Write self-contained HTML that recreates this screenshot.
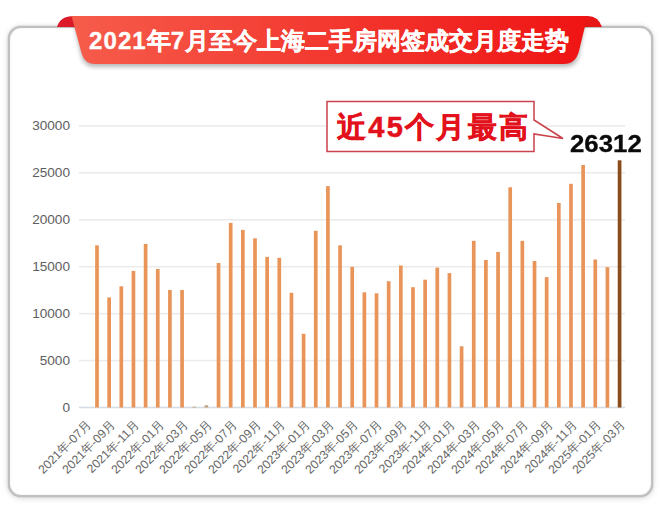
<!DOCTYPE html>
<html><head><meta charset="utf-8">
<style>
html,body{margin:0;padding:0;}
body{width:660px;height:515px;position:relative;overflow:hidden;background:#fff;font-family:"Liberation Sans",sans-serif;}
.card{position:absolute;left:7.5px;top:26.2px;width:641.4px;height:466.6px;border:2px solid #c0c0c0;border-radius:13px;box-shadow:0 0 1.5px rgba(0,0,0,0.3), 0 1px 6px rgba(0,0,0,0.16), inset 0 0 2px rgba(0,0,0,0.1);background:#fff;}
svg{position:absolute;left:0;top:0;}
.yl{position:absolute;left:0;width:70px;text-align:right;font-size:13.6px;line-height:16px;color:#5e5e5e;}
.xl{position:absolute;top:414.6px;width:200px;text-align:right;font-size:12.2px;line-height:16px;color:#666;transform-origin:100% 50%;transform:rotate(-45deg);white-space:nowrap;}
.title{position:absolute;left:89px;top:25px;font-size:24px;line-height:32px;font-weight:bold;color:#fff;white-space:nowrap;-webkit-text-stroke:0.35px #fff;}
.dg{letter-spacing:1.1px;}
.call{position:absolute;left:337px;top:106.5px;letter-spacing:2.25px;font-size:29px;line-height:40px;font-weight:bold;color:#e3111b;white-space:nowrap;-webkit-text-stroke:0.55px #e3111b;}
.big{position:absolute;left:570px;top:130px;transform-origin:0 0;transform:scaleX(1.075);font-size:24px;line-height:28px;font-weight:bold;color:#0b0b0b;white-space:nowrap;-webkit-text-stroke:0.3px #0b0b0b;}
</style></head><body>
<div class="card"></div>
<svg width="660" height="515" viewBox="0 0 660 515">
<defs>
<linearGradient id="rg" x1="0" x2="1" y1="0" y2="0">
<stop offset="0" stop-color="#f65c4b"/><stop offset="1" stop-color="#ef1414"/>
</linearGradient>
<linearGradient id="rb" x1="0" x2="1" y1="0" y2="0">
<stop offset="0" stop-color="#dc1a2a"/><stop offset="1" stop-color="#e81616"/>
</linearGradient>
<filter id="sh" x="-10%" y="-50%" width="120%" height="200%"><feGaussianBlur stdDeviation="2"/></filter>
</defs>
<path d="M57 27 Q60 16 74 16 L588 16 Q598 16 602 27 Z" fill="url(#rb)"/>
<path d="M74 24 L585 24 L579 56 Q576 67 565 67 L94 67 Q84 67 81 56 Z" fill="rgba(0,0,0,0.28)" filter="url(#sh)"/>
<path d="M71.5 16 L587.5 16 L579 51 Q575.5 64 564 64 L95 64 Q84 64 81 51 Z" fill="url(#rg)"/>
<rect x="79" y="406.70" width="546" height="1.6" fill="#d6dce4"/><rect x="79" y="359.77" width="546" height="1.6" fill="#ebebeb"/><rect x="79" y="312.84" width="546" height="1.6" fill="#ebebeb"/><rect x="79" y="265.91" width="546" height="1.6" fill="#ebebeb"/><rect x="79" y="218.98" width="546" height="1.6" fill="#ebebeb"/><rect x="79" y="172.05" width="546" height="1.6" fill="#ebebeb"/><rect x="79" y="125.12" width="546" height="1.6" fill="#ebebeb"/>
<rect x="95.15" y="245.30" width="3.7" height="162.20" fill="#e9955a"/><rect x="107.30" y="297.40" width="3.7" height="110.10" fill="#e9955a"/><rect x="119.46" y="286.30" width="3.7" height="121.20" fill="#e9955a"/><rect x="131.61" y="270.90" width="3.7" height="136.60" fill="#e9955a"/><rect x="143.76" y="243.90" width="3.7" height="163.60" fill="#e9955a"/><rect x="155.91" y="269.00" width="3.7" height="138.50" fill="#e9955a"/><rect x="168.07" y="290.00" width="3.7" height="117.50" fill="#e9955a"/><rect x="180.22" y="290.00" width="3.7" height="117.50" fill="#e9955a"/><rect x="192.37" y="406.70" width="3.7" height="0.80" fill="#c0a07a"/><rect x="204.53" y="405.30" width="3.7" height="2.20" fill="#c0a07a"/><rect x="216.68" y="263.00" width="3.7" height="144.50" fill="#e9955a"/><rect x="228.83" y="222.90" width="3.7" height="184.60" fill="#e9955a"/><rect x="240.99" y="229.90" width="3.7" height="177.60" fill="#e9955a"/><rect x="253.14" y="238.30" width="3.7" height="169.20" fill="#e9955a"/><rect x="265.29" y="256.90" width="3.7" height="150.60" fill="#e9955a"/><rect x="277.44" y="257.80" width="3.7" height="149.70" fill="#e9955a"/><rect x="289.60" y="292.80" width="3.7" height="114.70" fill="#e9955a"/><rect x="301.75" y="333.80" width="3.7" height="73.70" fill="#e9955a"/><rect x="313.90" y="230.80" width="3.7" height="176.70" fill="#e9955a"/><rect x="326.06" y="186.10" width="3.7" height="221.40" fill="#e9955a"/><rect x="338.21" y="245.30" width="3.7" height="162.20" fill="#e9955a"/><rect x="350.36" y="266.80" width="3.7" height="140.70" fill="#e9955a"/><rect x="362.52" y="292.30" width="3.7" height="115.20" fill="#e9955a"/><rect x="374.67" y="293.30" width="3.7" height="114.20" fill="#e9955a"/><rect x="386.82" y="281.20" width="3.7" height="126.30" fill="#e9955a"/><rect x="398.97" y="265.50" width="3.7" height="142.00" fill="#e9955a"/><rect x="411.13" y="287.20" width="3.7" height="120.30" fill="#e9955a"/><rect x="423.28" y="279.70" width="3.7" height="127.80" fill="#e9955a"/><rect x="435.43" y="267.60" width="3.7" height="139.90" fill="#e9955a"/><rect x="447.59" y="273.10" width="3.7" height="134.40" fill="#e9955a"/><rect x="459.74" y="346.30" width="3.7" height="61.20" fill="#e9955a"/><rect x="471.89" y="240.80" width="3.7" height="166.70" fill="#e9955a"/><rect x="484.05" y="260.00" width="3.7" height="147.50" fill="#e9955a"/><rect x="496.20" y="251.90" width="3.7" height="155.60" fill="#e9955a"/><rect x="508.35" y="187.30" width="3.7" height="220.20" fill="#e9955a"/><rect x="520.50" y="240.80" width="3.7" height="166.70" fill="#e9955a"/><rect x="532.66" y="261.00" width="3.7" height="146.50" fill="#e9955a"/><rect x="544.81" y="277.10" width="3.7" height="130.40" fill="#e9955a"/><rect x="556.96" y="203.00" width="3.7" height="204.50" fill="#e9955a"/><rect x="569.12" y="183.80" width="3.7" height="223.70" fill="#e9955a"/><rect x="581.27" y="165.00" width="3.7" height="242.50" fill="#e9955a"/><rect x="593.42" y="259.50" width="3.7" height="148.00" fill="#e9955a"/><rect x="605.58" y="267.10" width="3.7" height="140.40" fill="#e9955a"/><rect x="617.73" y="160.30" width="3.7" height="247.20" fill="#8b4c1c"/>
<path d="M327 101.5 L534 101.5 L534 120 L563 138.5 L534 134 L534 151.5 L327 151.5 Z" fill="#fff" stroke="#c9424c" stroke-width="1.5"/>
</svg>
<div class="title"><span class="dg">2021</span>年<span class="dg">7</span>月至今上海二手房网签成交月度走势</div>
<div class="call">近45个月最高</div>
<div class="big">26312</div>
<div class="yl" style="top:399.60px">0</div><div class="yl" style="top:352.67px">5000</div><div class="yl" style="top:305.74px">10000</div><div class="yl" style="top:258.81px">15000</div><div class="yl" style="top:211.88px">20000</div><div class="yl" style="top:164.95px">25000</div><div class="yl" style="top:118.02px">30000</div>
<div class="xl" style="left:-111.20px">2021年-07月</div><div class="xl" style="left:-86.90px">2021年-09月</div><div class="xl" style="left:-62.60px">2021年-11月</div><div class="xl" style="left:-38.30px">2022年-01月</div><div class="xl" style="left:-14.00px">2022年-03月</div><div class="xl" style="left:10.30px">2022年-05月</div><div class="xl" style="left:34.60px">2022年-07月</div><div class="xl" style="left:58.90px">2022年-09月</div><div class="xl" style="left:83.20px">2022年-11月</div><div class="xl" style="left:107.50px">2023年-01月</div><div class="xl" style="left:131.80px">2023年-03月</div><div class="xl" style="left:156.10px">2023年-05月</div><div class="xl" style="left:180.40px">2023年-07月</div><div class="xl" style="left:204.70px">2023年-09月</div><div class="xl" style="left:229.00px">2023年-11月</div><div class="xl" style="left:253.30px">2024年-01月</div><div class="xl" style="left:277.60px">2024年-03月</div><div class="xl" style="left:301.90px">2024年-05月</div><div class="xl" style="left:326.20px">2024年-07月</div><div class="xl" style="left:350.50px">2024年-09月</div><div class="xl" style="left:374.80px">2024年-11月</div><div class="xl" style="left:399.10px">2025年-01月</div><div class="xl" style="left:423.40px">2025年-03月</div>
</body></html>
